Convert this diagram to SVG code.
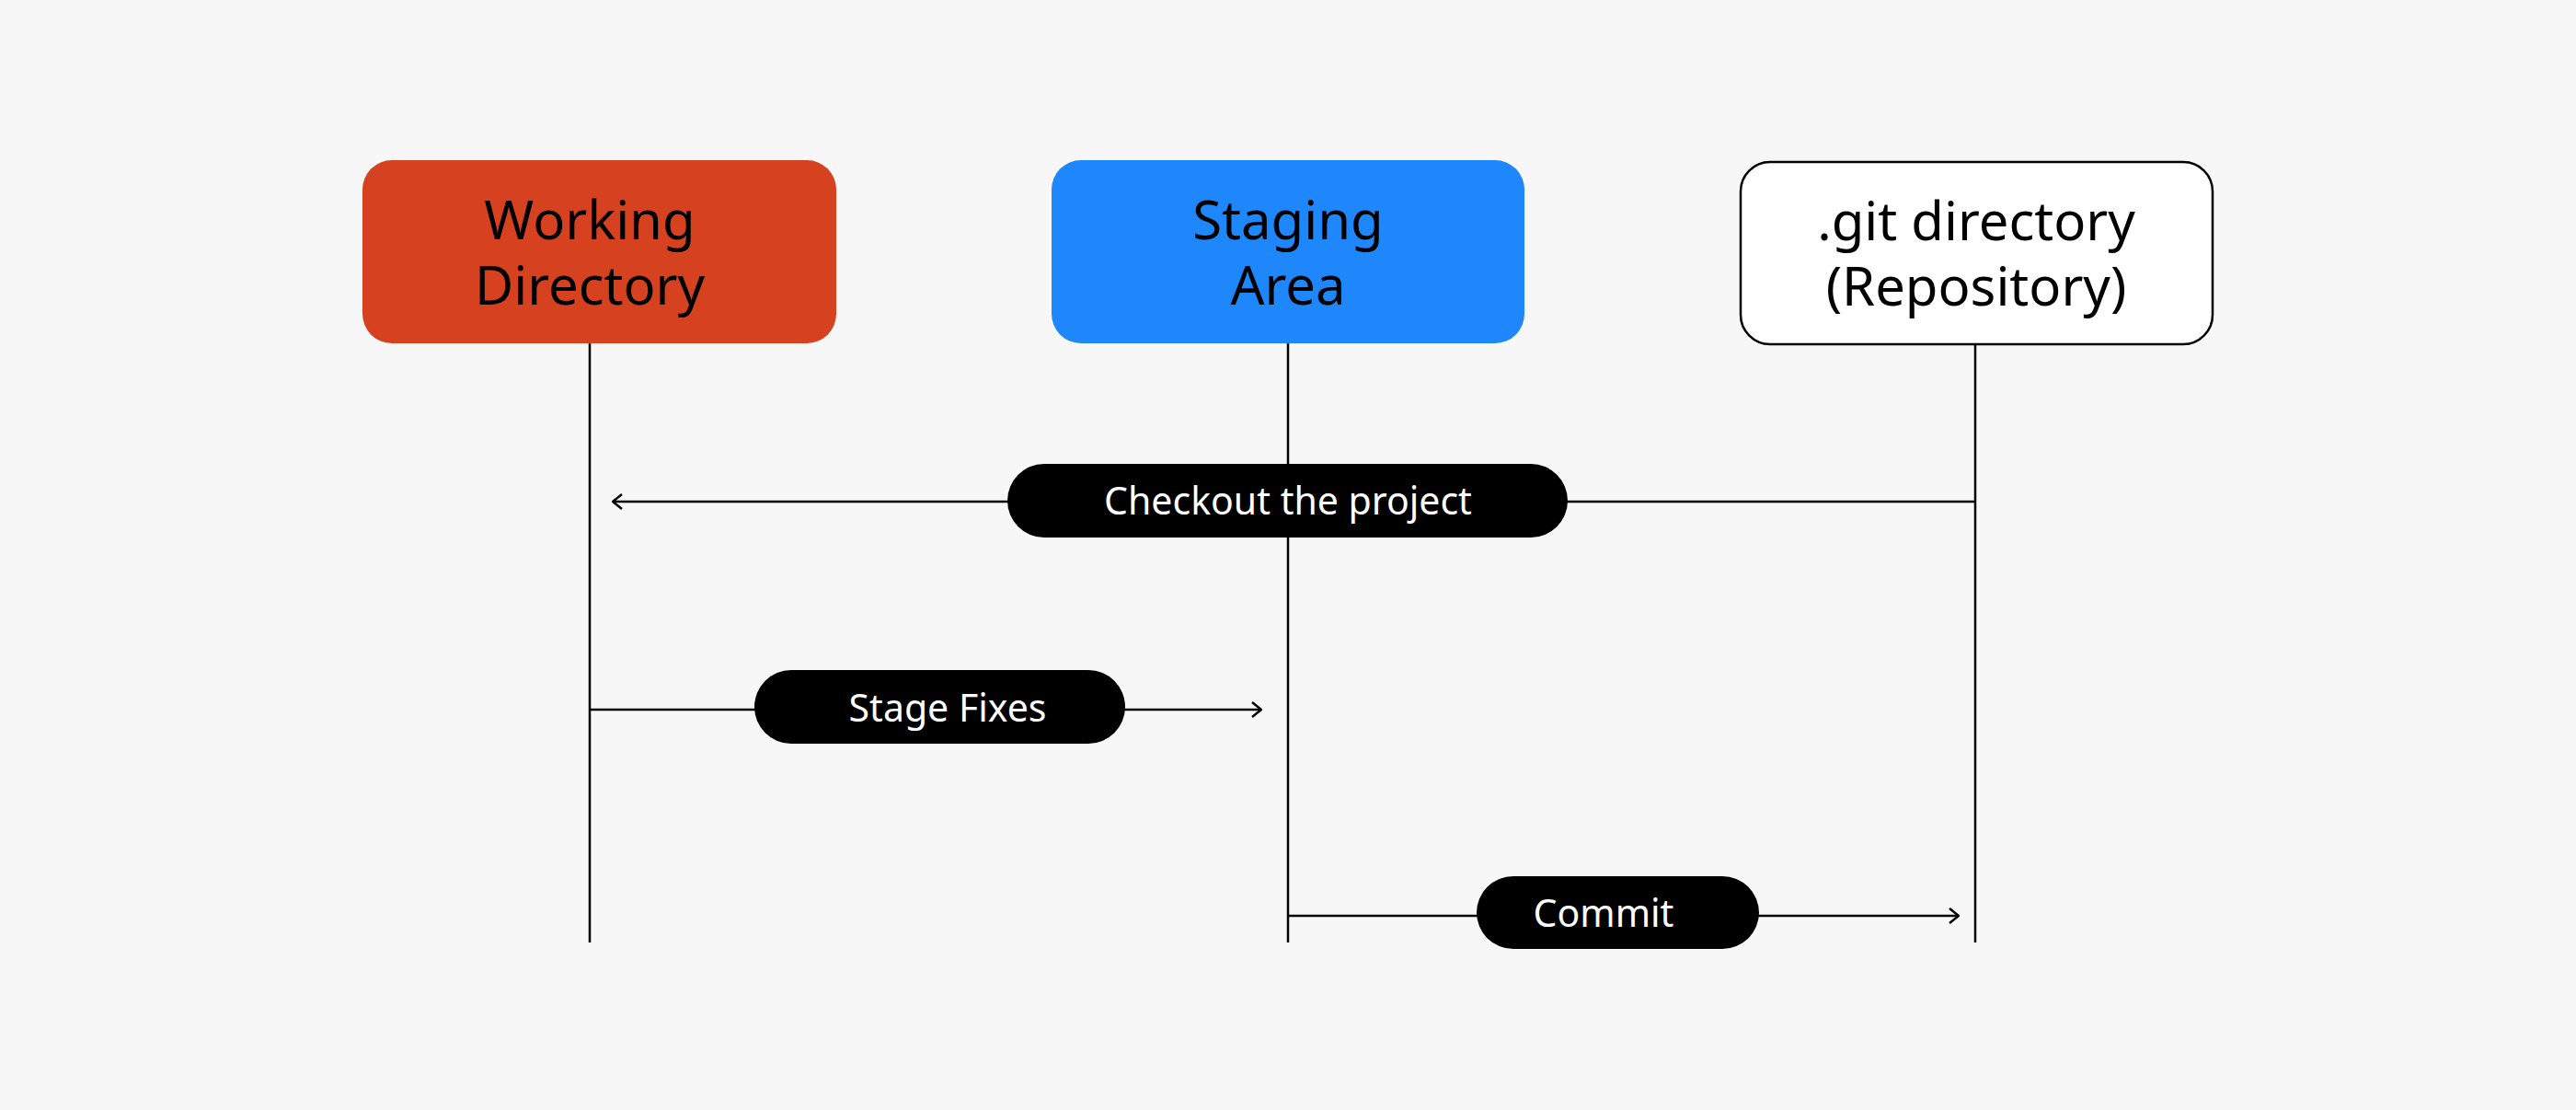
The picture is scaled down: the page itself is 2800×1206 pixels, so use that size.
<svg xmlns="http://www.w3.org/2000/svg" width="2800" height="1206" viewBox="0 0 2800 1206">
<defs>
<style>
.node-text{font-family:"Noto Sans","Open Sans","Liberation Sans",sans-serif;font-size:58px;fill:#000;text-anchor:middle}
.pill{fill:#000}
.pill-text{font-family:"Noto Sans","Open Sans","Liberation Sans",sans-serif;font-size:41px;fill:#fff;text-anchor:middle}
.line{stroke:#000;stroke-width:2.5;fill:none}
</style>
<marker id="arrow" viewBox="0 0 12 20" refX="11" refY="10" markerWidth="12" markerHeight="20" markerUnits="userSpaceOnUse" orient="auto">
<path d="M1,2 L11,10 L1,18" fill="none" stroke="#000" stroke-width="2.5"/>
</marker>
</defs>
<rect width="2800" height="1206" fill="#f7f7f7"/>
<g id="connectors">
<line class="line" x1="641" y1="373" x2="641" y2="1024"/>
<line class="line" x1="1400" y1="373" x2="1400" y2="1024"/>
<line class="line" x1="2147" y1="375" x2="2147" y2="1024"/>
<line class="line" x1="2147" y1="545" x2="666" y2="545" marker-end="url(#arrow)"/>
<line class="line" x1="641" y1="771" x2="1371" y2="771" marker-end="url(#arrow)"/>
<line class="line" x1="1400" y1="995" x2="2129" y2="995" marker-end="url(#arrow)"/>
</g>
<g id="working-directory">
<rect x="394" y="174" width="515" height="199" rx="32" fill="#d64120"/>
<text class="node-text" x="641" y="260">Working</text>
<text class="node-text" x="641" y="331">Directory</text>
</g>
<g id="staging-area">
<rect x="1143" y="174" width="514" height="199" rx="32" fill="#1d87fb"/>
<text class="node-text" x="1400" y="260">Staging</text>
<text class="node-text" x="1400" y="331">Area</text>
</g>
<g id="git-directory">
<rect x="1892" y="176" width="513" height="198" rx="32" fill="#fff" stroke="#000" stroke-width="2.5"/>
<text class="node-text" x="2148" y="261">.git directory</text>
<text class="node-text" x="2148" y="332">(Repository)</text>
</g>
<g id="checkout-label">
<rect class="pill" x="1095" y="504" width="609" height="80" rx="40"/>
<text class="pill-text" x="1400" y="559">Checkout the project</text>
</g>
<g id="stage-fixes-label">
<rect class="pill" x="820" y="728" width="403" height="80" rx="40"/>
<text class="pill-text" x="1030" y="784">Stage Fixes</text>
</g>
<g id="commit-label">
<rect class="pill" x="1605" y="952" width="307" height="79" rx="40"/>
<text class="pill-text" x="1743" y="1007">Commit</text>
</g>
</svg>
